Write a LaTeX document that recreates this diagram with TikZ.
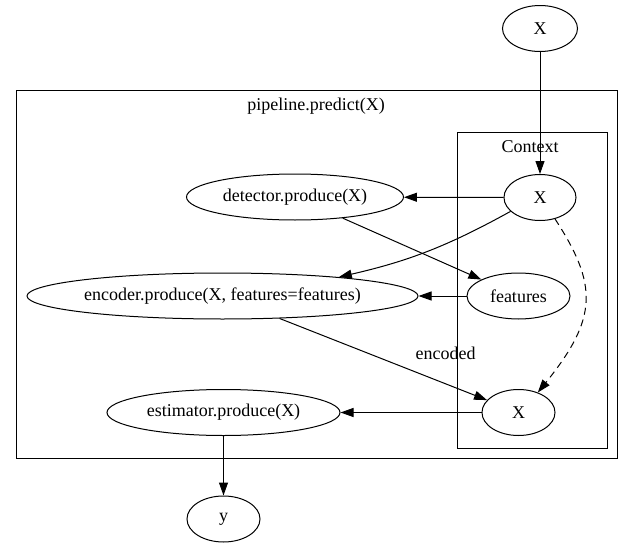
\documentclass[tikz,border=0pt]{standalone}
\usepackage{fontspec}
\setmainfont{Liberation Serif}
\usepackage{tikz}
\usetikzlibrary{arrows.meta, positioning, shapes.geometric}

\tikzset{
    blob/.style={draw, ellipse, inner sep=0pt, minimum height=46pt, line width=1pt, font=\fontsize{18}{20}\selectfont},
    link/.style={-{Triangle[length=13pt, width=9pt]}, line width=1pt},
    frame/.style={draw, line width=1pt},
    lbl/.style={font=\fontsize{18}{20}\selectfont}
}

\begin{document}
\begin{tikzpicture}[x=1pt, y=-1pt]
\useasboundingbox (0,0) rectangle (633,549);
\fill[white] (0,0) rectangle (633,549);

% Clusters
\draw[frame] (16,90) rectangle (617,458);
\node[lbl] (title) at (316,106) {pipeline.predict(X)};
\draw[frame] (457,132) rectangle (607,448);
\node[lbl] (ctx) at (530,147) {Context};

% Nodes
\node[blob, minimum width=75pt] (xin) at (540,28.5) {X};
\node[blob, minimum width=72pt] (xctx) at (540,197.5) {X};
\node[blob, minimum width=217pt] (det) at (295,197) {detector.produce(X)};
\node[blob, minimum width=103pt] (feat) at (518.5,296) {features};
\node[blob, minimum width=391pt] (enc) at (222.5,296) {encoder.produce(X, features=features)};
\node[blob, minimum width=73pt] (xbot) at (518.5,412.5) {X};
\node[blob, minimum width=233pt] (est) at (223.5,412.5) {estimator.produce(X)};
\node[blob, minimum width=73pt] (yout) at (223.5,519) {y};

% Edges
\draw[link] (xin) -- (xctx);
\draw[link] (xctx) -- (det);
\draw[link] (xctx) to[bend left=8] (enc);
\draw[link] (det) -- (feat);
\draw[link] (feat) -- (enc);
\draw[link] (enc) -- node[lbl, pos=0.8, yshift=30pt] {encoded} (xbot);
\draw[link, dash pattern=on 7pt off 5pt] (xctx.-55) .. controls (598,285) and (598,318) .. (xbot.46);
\draw[link] (xbot) -- (est);
\draw[link] (est) -- (yout);
\end{tikzpicture}
\end{document}
